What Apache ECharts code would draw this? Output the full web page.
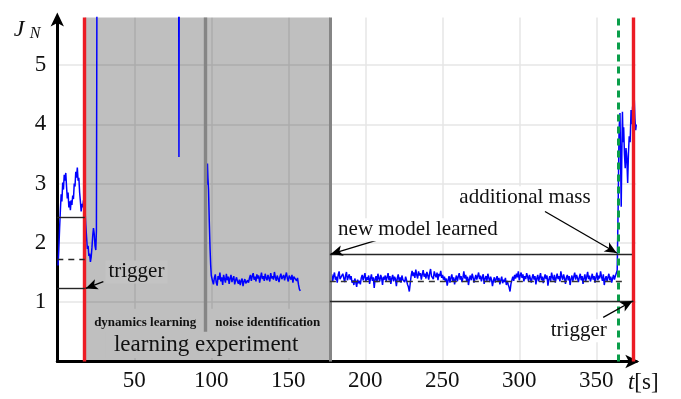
<!DOCTYPE html>
<html><head><meta charset="utf-8">
<script src="https://cdn.jsdelivr.net/npm/echarts@6/dist/echarts.min.js"></script>
<style>html,body{margin:0;padding:0;background:#fff}#c{width:681px;height:399px}</style>
</head><body><div id="c"></div>
<script>
// ---------- data ----------
const xTickStep = 50;               // t[s] tick labels 50..350
const yTickStep = 1;                // J_N tick labels 1..5
const xMax = 376, yMax = 5.8;

// start-up phase (before first trigger) and dynamics learning
const startT = [0.5,1.0,1.5,2.0,2.5,3.0,3.5,4.0,4.5,5.0,5.5,6.0,6.5,7.0,7.5,8.0,8.5,9.0,9.5,10.0,10.5,11.0,11.5,12.0,12.5,13.0,13.5,14.0,14.5,15.0,15.5,16.0,16.5,17.0,17.5,18.0,18.5,19.0,19.5,20.0,20.5,21.0,21.5,22.0,22.5,23.0,23.5,24.0,24.5,25.0,25.4,25.8,26.2,78.7,79.0,79.3,92.0];
const startV = [1.62,1.90,2.25,2.55,2.82,2.70,3.02,2.90,3.15,3.05,3.18,2.95,2.75,2.85,2.60,2.70,2.55,2.72,2.64,2.80,2.74,3.00,2.95,3.20,3.10,3.27,3.05,3.10,2.85,2.70,2.53,2.66,2.60,2.72,2.62,2.55,2.30,2.10,1.90,1.95,1.78,1.82,1.68,1.76,1.92,2.12,2.25,2.15,1.95,1.88,2.20,7.0,9.0,9.0,3.45,9.0,9.0];

// noise identification: transient then noisy plateau
const noiseIdT = [97.1,97.5,97.8,98.2,98.7,99.2,99.6,100.0];
const noiseIdV = [2.98,3.34,3.10,2.90,2.36,1.90,1.63,1.45];
const plateauStart = 100.2, plateauStep = 0.6;
const plateauV = [1.45,1.36,1.30,1.41,1.47,1.33,1.28,1.44,1.38,1.50,1.35,1.42,1.29,1.46,1.39,1.33,1.48,
1.37,1.43,1.31,1.40,1.46,1.34,1.39,1.44,1.30,1.37,1.42,1.35,
1.31,1.38,1.29,1.36,1.40,1.27,1.35,1.39,1.32,1.30,1.37,1.33,
1.41,1.46,1.36,1.44,1.49,1.38,1.43,1.35,1.47,1.40,1.45,1.33,1.42,1.50,1.39,1.44,1.36,1.48,1.41,1.37,1.46,1.43,1.35,1.49,1.40,1.44,1.38,1.51,1.42,1.36,1.45,1.47,1.34,1.43,1.48,1.39,1.41,1.46,1.37,1.44,1.50,1.40,1.35,1.45,1.42,1.38,1.46,1.33,1.43,1.40,1.44,
1.36,1.41,1.30,1.22,1.19];

// operation with the new model
const runStart = 177.6, runStep = 0.6;
const runV = [
1.40,1.47,1.35,1.44,1.50,1.38,1.43,1.33,1.46,1.52,1.39,1.42,1.36,1.48,1.41,1.34,1.45,1.51,1.37,1.43,
1.47,1.38,1.44,1.33,1.37,1.29,1.40,1.34,1.26,1.38,1.32,1.36,1.30,1.41,1.46,1.37,1.43,1.49,1.35,1.42,
1.38,1.45,1.31,1.40,1.47,1.36,1.42,1.24,1.39,1.44,1.34,1.48,1.40,1.35,1.46,1.41,1.29,1.43,1.38,1.45,
1.36,1.42,1.49,1.37,1.44,1.31,1.40,1.46,1.35,1.43,1.39,1.27,1.41,1.47,1.36,1.42,1.33,1.45,1.38,1.40,
1.34,1.43,1.37,1.30,1.26,1.18,1.32,1.45,1.53,1.44,1.50,1.41,1.55,1.46,1.40,1.52,1.45,1.49,1.38,1.47,
1.54,1.43,1.48,1.40,1.51,1.45,1.38,1.49,1.56,1.44,1.47,1.39,1.52,1.46,1.42,1.50,1.37,1.48,1.44,1.53,
1.41,1.46,1.38,1.43,1.35,1.40,1.28,1.37,1.44,1.33,1.41,1.47,1.36,1.42,1.30,1.39,1.45,1.35,1.43,1.49,
1.38,1.44,1.34,1.41,1.52,1.40,1.46,1.36,1.43,1.29,1.39,1.45,1.37,1.48,1.42,1.33,1.40,1.46,1.38,1.44,
1.50,1.39,1.45,1.35,1.42,1.47,1.31,1.40,1.44,1.36,1.48,1.41,1.34,1.43,1.38,1.27,1.36,1.42,1.33,1.39,
1.44,1.35,1.41,1.30,1.37,1.43,1.32,1.38,1.34,1.41,1.29,1.36,1.30,1.25,1.18,1.31,1.37,1.43,1.36,1.46,
1.40,1.48,1.42,1.52,1.37,1.45,1.50,1.41,1.47,1.35,1.44,1.39,1.49,1.43,1.36,1.46,1.40,1.33,1.42,1.47,
1.38,1.44,1.30,1.40,1.46,1.35,1.42,1.49,1.37,1.43,1.32,1.41,1.47,1.39,1.45,1.28,1.38,1.44,1.36,1.50,
1.42,1.37,1.46,1.33,1.41,1.48,1.39,1.44,1.35,1.52,1.43,1.38,1.47,1.40,1.31,1.42,1.46,1.37,1.44,1.29,
1.39,1.45,1.36,1.43,1.50,1.38,1.46,1.41,1.34,1.42,1.48,1.37,1.44,1.31,1.40,1.47,1.36,1.43,1.51,1.39,
1.45,1.35,1.41,1.48,1.38,1.44,1.33,1.42,1.50,1.37,1.45,1.40,1.52,1.43,1.36,1.47,1.29,1.39,1.44,1.35,
1.42,1.48,1.37,1.43,1.33,1.40,1.46,1.38,1.44,1.49,1.54];

// additional mass phase
const massT = [364.2,364.8,365.4,365.8,366.2,366.6,367.0,367.4,367.8,368.3,368.8,369.3,369.8,370.4,370.9,371.4,372.0,372.6,373.1,373.6,374.1,374.6,375.1,375.6,376.0];
const massV = [2.60,3.90,4.19,3.40,2.61,3.50,4.21,3.70,3.95,3.50,3.26,3.60,3.45,3.01,3.50,3.80,3.70,4.24,4.00,4.30,3.90,4.49,4.10,3.90,4.00];

// thresholds / events
const leftBand  = [2.43, 1.72, 1.24];   // upper, mean (dashed), lower
const rightBand = [1.81, 1.36, 1.02];
const tTrigger1 = 17.8, tNoiseId = 96.4, tLearnEnd = 177.0, tMass = 364.0, tTrigger2 = 374.2;

// ---------- build ----------
const signal = [];
startT.forEach((t,i)=>signal.push([t,startV[i]]));
signal.push([94, null]);
noiseIdT.forEach((t,i)=>signal.push([t,noiseIdV[i]]));
plateauV.forEach((v,i)=>signal.push([+(plateauStart+i*plateauStep).toFixed(2), v]));
signal.push([168, null]);
runV.forEach((v,i)=>signal.push([+(runStart+i*runStep).toFixed(2), v]));
massT.forEach((t,i)=>signal.push([t,massV[i]]));

const serif = '"Liberation Serif","Times New Roman",serif';
const blackLine = {color:'#262626', width:1.4, type:'solid'};
const arrowLine = {color:'#000', width:1.3, type:'solid'};
function seg(a,b,style,endSym){
  return [{coord:a, symbol:'none', lineStyle:style},{coord:b, symbol:endSym||'none'}];
}
const annLines = [
  seg([0,leftBand[0]],[tTrigger1,leftBand[0]],blackLine),
  seg([0,leftBand[1]],[tTrigger1,leftBand[1]],{color:'#262626',width:1.4,type:[6,5]}),
  seg([0,leftBand[2]],[tTrigger1,leftBand[2]],blackLine),
  seg([tLearnEnd,rightBand[0]],[373.2,rightBand[0]],blackLine),
  seg([tLearnEnd,rightBand[1]],[369,rightBand[1]],{color:'#333',width:1.4,type:[6,5]}),
  seg([tLearnEnd,rightBand[2]],[tTrigger2,rightBand[2]],blackLine),
  // arrows
  seg([29.9,1.346],[18.4,1.232],arrowLine,'arrow'),
  seg([208.2,2.05],[177.6,1.812],arrowLine,'arrow'),
  seg([316.7,2.53],[363.3,1.83],arrowLine,'arrow'),
  seg([354.5,0.745],[373.6,1.02],arrowLine,'arrow')
];
const eventLines = [
  seg([tTrigger1,0],[tTrigger1,yMax],{color:'#ec1c24',width:3.4,type:'solid'}),
  seg([tTrigger2,0],[tTrigger2,yMax],{color:'#ec1c24',width:3.4,type:'solid'}),
  seg([tNoiseId,0.5],[tNoiseId,yMax],{color:'#858585',width:3.4,type:'solid'}),
  seg([tLearnEnd,0],[tLearnEnd,yMax],{color:'#858585',width:3,type:'solid'}),
  seg([tMass,0],[tMass,yMax],{color:'#0a9e4a',width:3,type:[7,5]})
];

const chart = echarts.init(document.getElementById('c'), null, {renderer:'canvas'});
const option = {
  animation:false,
  backgroundColor:'#fff',
  grid:{left:57.3, right:44.7, top:17.6, bottom:37.5},
  xAxis:{
    type:'value', min:0, max:xMax, interval:xTickStep,
    axisLine:{show:true, lineStyle:{color:'#000',width:3}, symbol:['none','arrow'], symbolSize:[10,14], symbolOffset:[0,3]},
    axisTick:{show:false},
    axisLabel:{fontFamily:serif, fontSize:23, color:'#111', margin:8,
      formatter:v=> (v>0 && v%xTickStep===0) ? String(v) : '', showMaxLabel:false},
    splitLine:{show:true, showMinLine:false, showMaxLine:false, lineStyle:{color:'#e6e6e6',width:1.5}}
  },
  yAxis:{
    type:'value', min:0, max:yMax, interval:yTickStep,
    axisLine:{show:true, onZero:false, lineStyle:{color:'#000',width:3}, symbol:['none','arrow'], symbolSize:[10,14], symbolOffset:[0,5]},
    axisTick:{show:false},
    axisLabel:{fontFamily:serif, fontSize:23, color:'#111', margin:11,
      formatter:v=> (v>0 && Number.isInteger(v)) ? String(v) : ''},
    splitLine:{show:true, showMinLine:false, showMaxLine:false, lineStyle:{color:'#e6e6e6',width:1.5}}
  },
  series:[
    {type:'line', name:'area', data:[], z:1, silent:true,
     markArea:{silent:true, itemStyle:{color:'rgba(0,0,0,0.25)'}, data:[[{xAxis:tTrigger1},{xAxis:tLearnEnd}]]}},
    {type:'line', name:'events', data:[], z:2, silent:true,
     markLine:{silent:true, animation:false, symbol:['none','none'], symbolSize:[8,12], label:{show:false}, data:eventLines.concat(annLines)}},
    {type:'line', name:'J_N', data:signal, z:3, showSymbol:false, connectNulls:false, clip:true,
     lineStyle:{color:'#0000ff', width:1.5}}
  ]
};
chart.setOption(option);

function px(t,v){ return chart.convertToPixel({gridIndex:0},[t,v]); }
function txt(t,v,text,opt){
  const p = px(t,v);
  return {type:'text', x:p[0], y:p[1], z:100, silent:true,
    style:Object.assign({text:text, fontFamily:serif, fontSize:21, fill:'#111',
      align:'center', verticalAlign:'middle', textAlign:'center', textVerticalAlign:'middle'}, opt||{})};
}
const graphics = [
  txt(51.4,1.51,'trigger',{backgroundColor:'#c3c3c3', padding:[1,3,1,3]}),
  txt(234.2,2.22,'new model learned',{backgroundColor:'#fff', padding:[1,2,1,2]}),
  txt(303.7,2.76,'additional mass',{backgroundColor:'#fff', padding:[1,2,1,2]}),
  txt(338.6,0.52,'trigger',{backgroundColor:'#fff', padding:[1,2,1,2]}),
  txt(57.1,0.654,'dynamics learning',{fontSize:13, fontWeight:'bold', backgroundColor:'#bfbfbf', padding:[9,6,6,6]}),
  txt(136.7,0.654,'noise identification',{fontSize:13, fontWeight:'bold', backgroundColor:'#bfbfbf', padding:[9,6,6,6]}),
  txt(96.7,0.278,'learning experiment',{fontSize:23, backgroundColor:'#bfbfbf', padding:[1,8,2,8]})
];
// axis names
graphics.push({type:'text', x:19, y:30, z:100, style:{text:'J', fontFamily:serif, fontStyle:'italic', fontSize:24, fill:'#111', align:'center', verticalAlign:'middle'}});
graphics.push({type:'text', x:35, y:34, z:100, style:{text:'N', fontFamily:serif, fontStyle:'italic', fontSize:16, fill:'#111', align:'center', verticalAlign:'middle'}});
const xEnd = px(xMax,0);
graphics.push({type:'text', x:xEnd[0]+7, y:xEnd[1]+21, z:100, style:{
  text:'{i|t}{r|[s]}', align:'center', verticalAlign:'middle',
  rich:{i:{fontFamily:serif, fontStyle:'italic', fontSize:23, fill:'#111', color:'#111'}, r:{fontFamily:serif, fontSize:23, fill:'#111', color:'#111'}}}});
chart.setOption({graphic:graphics});
</script></body></html>
